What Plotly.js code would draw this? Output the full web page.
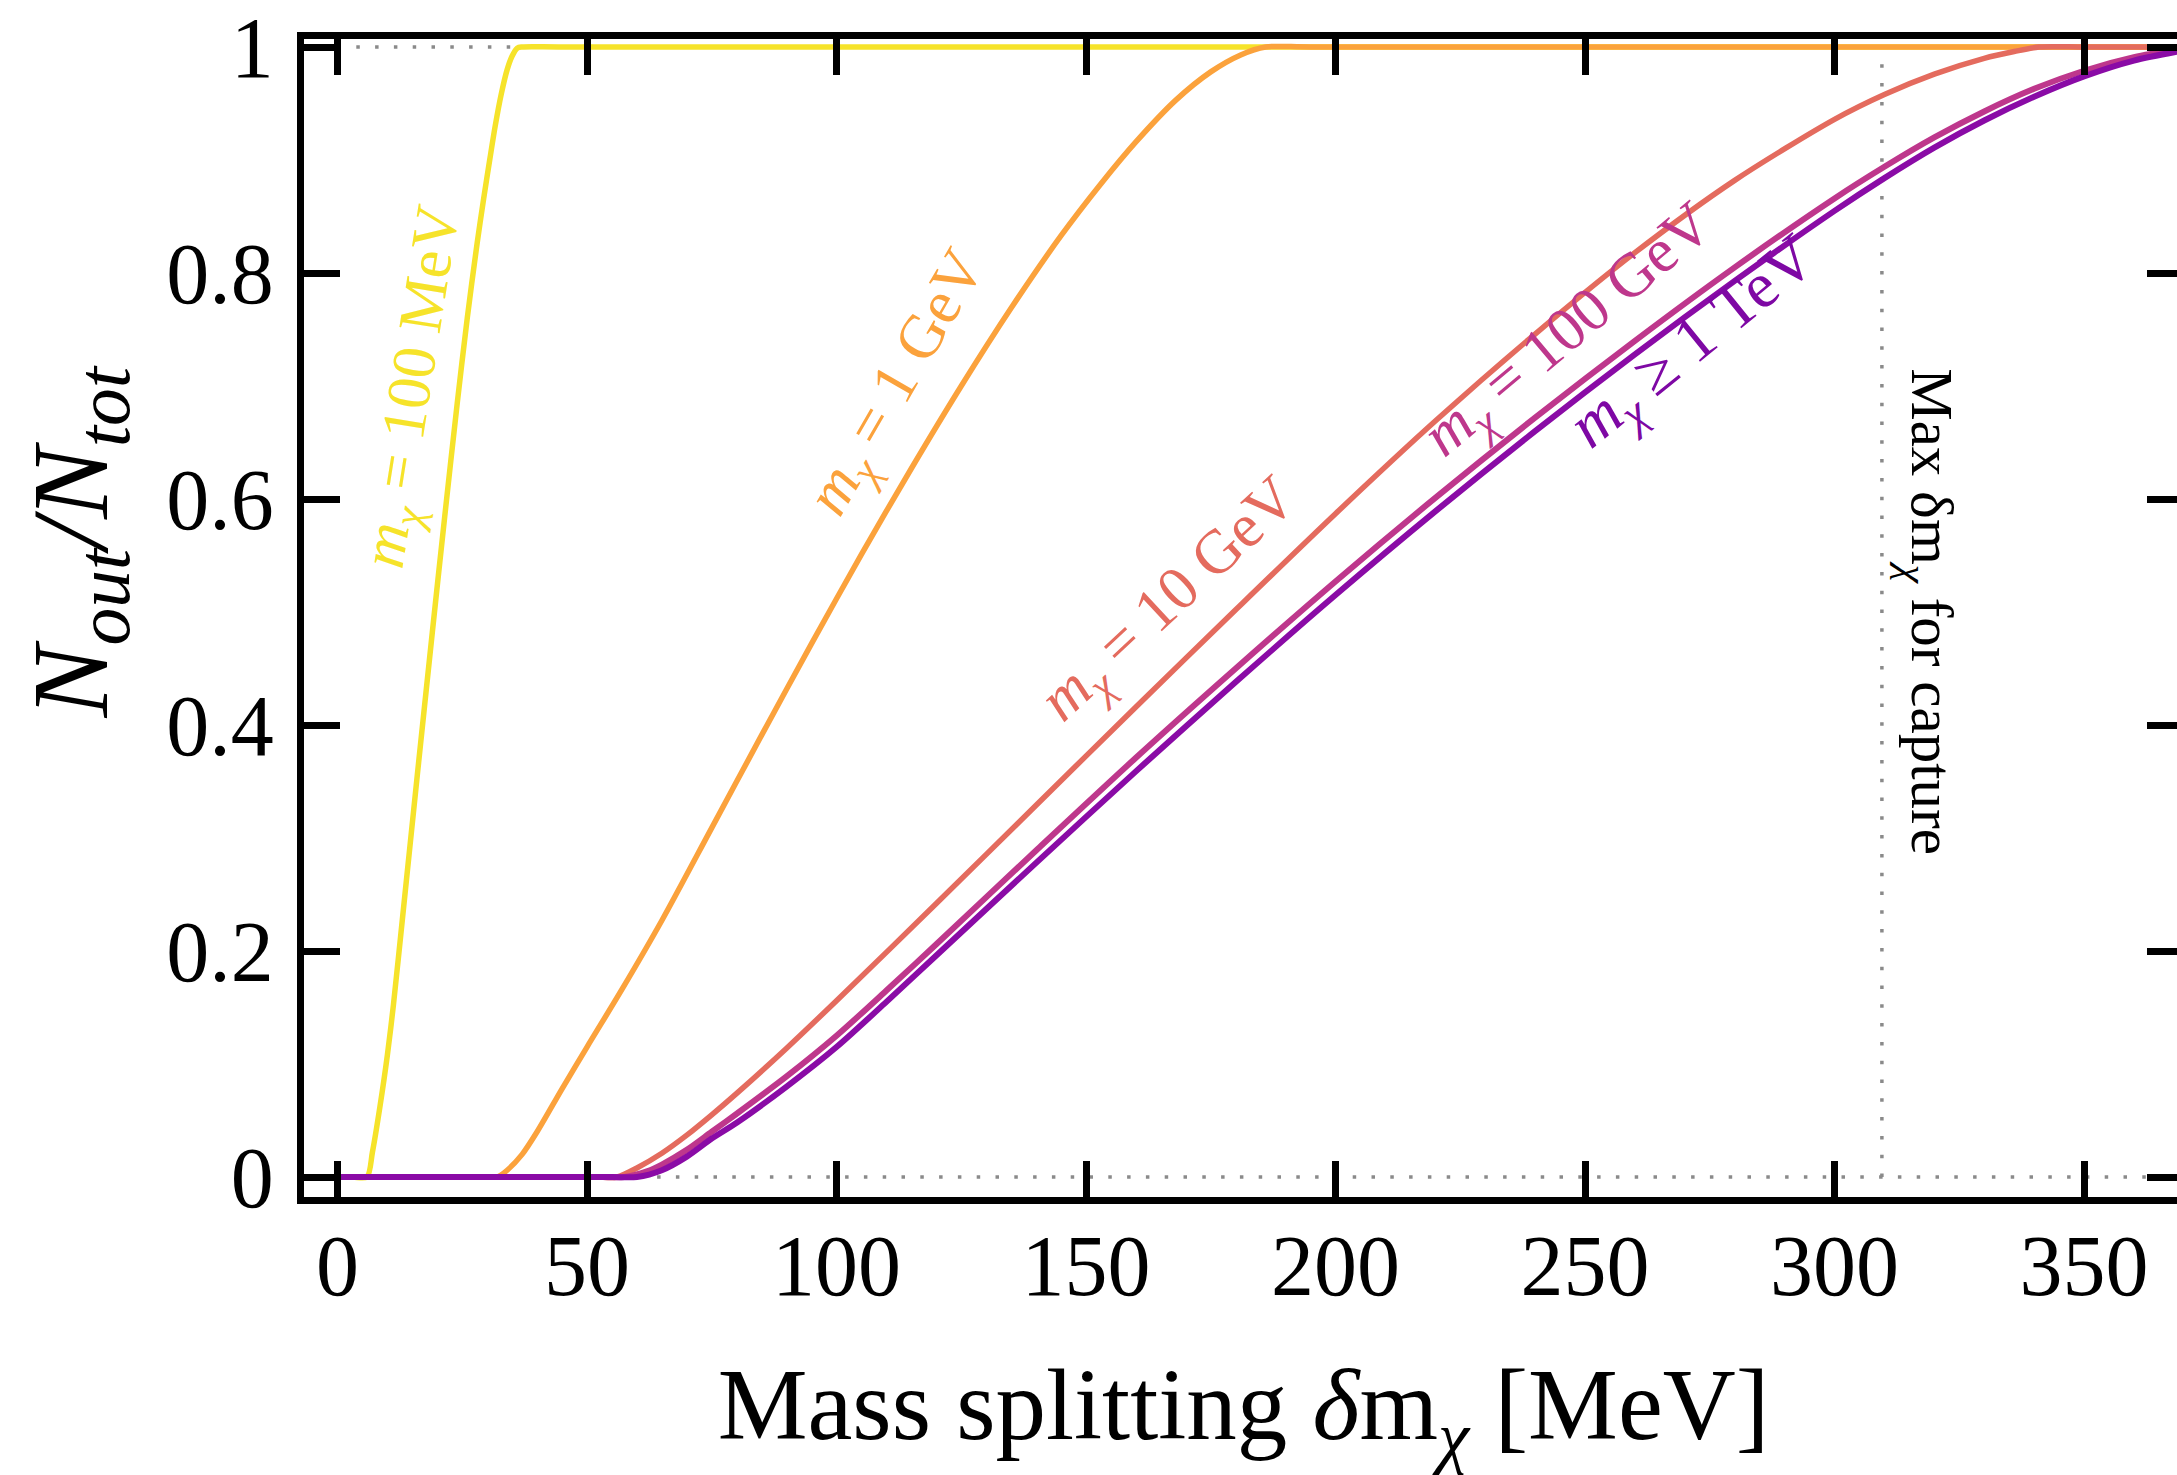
<!DOCTYPE html>
<html>
<head>
<meta charset="utf-8">
<script src="https://cdn.plot.ly/plotly-3.0.1.min.js"></script>
<style>
  html, body { margin: 0; padding: 0; overflow: hidden; background: #ffffff; }
  #chart { width: 2190px; height: 1475px; }
</style>
</head>
<body>
<div id="chart"></div>
<script>
// Fraction of states that end up outside, N_out/N_tot, versus the mass splitting δm_χ [MeV]
// for several dark-matter masses.

const splitting_100MeV = [0, 3, 5.9, 7, 8.5, 10, 11.2, 13, 16, 19, 21.5, 24, 26, 28, 29.3, 30.5, 31.6, 32.8, 34, 35, 36, 37, 45, 370];
const fraction_100MeV  = [0, 0, 0, 0.022, 0.062, 0.108, 0.152, 0.228, 0.356, 0.482, 0.585, 0.685, 0.76, 0.827, 0.866, 0.9, 0.93, 0.958, 0.98, 0.992, 0.999, 1, 1, 1];

const splitting_1GeV = [0, 25, 30, 32, 34, 37, 40, 45, 50, 57, 65, 75, 85, 95, 105, 115, 125, 135, 145, 153, 160, 168, 175, 181, 186, 195, 370];
const fraction_1GeV  = [0, 0, 0, 0, 0.006, 0.02, 0.04, 0.078, 0.115, 0.166, 0.227, 0.309, 0.391, 0.472, 0.551, 0.627, 0.7, 0.769, 0.833, 0.879, 0.916, 0.953, 0.978, 0.993, 1, 1, 1];

const splitting_10GeV = [0, 45, 52, 56, 60, 65, 70, 75, 80, 90, 100, 120, 140, 160, 180, 200, 220, 240, 260, 280, 300, 310, 320, 330, 336, 341, 350, 370];
const fraction_10GeV  = [0, 0, 0, 0, 0.008, 0.021, 0.037, 0.055, 0.074, 0.114, 0.156, 0.242, 0.329, 0.416, 0.502, 0.587, 0.669, 0.746, 0.818, 0.882, 0.936, 0.958, 0.976, 0.99, 0.996, 1, 1, 1];

const splitting_100GeV = [0, 45, 53, 57.5, 62, 65, 70, 75, 80, 90, 100, 110, 120, 140, 160, 180, 200, 220, 240, 260, 280, 300, 310, 320, 330, 340, 350, 360, 370];
const fraction_100GeV  = [0, 0, 0, 0, 0.005, 0.011, 0.024, 0.04, 0.056, 0.089, 0.125, 0.165, 0.206, 0.289, 0.371, 0.45, 0.527, 0.601, 0.672, 0.74, 0.805, 0.866, 0.894, 0.92, 0.943, 0.963, 0.979, 0.991, 0.999];

const splitting_1TeV = [0, 45, 55, 60, 65, 70, 75, 80, 90, 100, 110, 120, 140, 160, 180, 200, 220, 240, 260, 280, 300, 310, 320, 330, 340, 350, 360, 370];
const fraction_1TeV  = [0, 0, 0, 0, 0.006, 0.018, 0.034, 0.048, 0.08, 0.115, 0.155, 0.196, 0.278, 0.359, 0.438, 0.515, 0.589, 0.66, 0.728, 0.793, 0.855, 0.884, 0.911, 0.935, 0.956, 0.974, 0.988, 0.997];

// Largest splitting for which capture is still possible [MeV]
const maxCaptureSplitting = 309.5;

const xTickVals = [0, 50, 100, 150, 200, 250, 300, 350];
const xTickText = ['0', '50', '100', '150', '200', '250', '300', '350'];
const yTickVals = [0, 0.2, 0.4, 0.6, 0.8, 1];
const yTickText = ['0', '0.2', '0.4', '0.6', '0.8', '1'];

const serif = '"Liberation Serif", "DejaVu Serif", "Times New Roman", serif';

const colors = {
  mev100: '#F6E32A',
  gev1:   '#FBA23C',
  gev10:  '#E46B5E',
  gev100: '#BE378C',
  tev1:   '#8A0BA6'
};

function curve(x, y, color, width) {
  return {
    type: 'scatter', mode: 'lines', x: x, y: y,
    line: { color: color, width: width, shape: 'spline', smoothing: 0.8 },
    hoverinfo: 'skip', showlegend: false
  };
}

const traces = [
  curve(splitting_100MeV, fraction_100MeV, colors.mev100, 5.5),
  curve(splitting_1GeV,   fraction_1GeV,   colors.gev1,   5.5),
  curve(splitting_10GeV,  fraction_10GeV,  colors.gev10,  5.5),
  curve(splitting_100GeV, fraction_100GeV, colors.gev100, 6),
  curve(splitting_1TeV,   fraction_1TeV,   colors.tev1,   6)
];

const dotted = { color: '#8a8a8a', width: 3.5, dash: '3.5px,15.3px' };

const shapes = [
  { type: 'line', xref: 'x', yref: 'y', x0: 0, x1: 372, y0: 1, y1: 1, line: dotted, layer: 'below' },
  { type: 'line', xref: 'x', yref: 'y', x0: 0, x1: 372, y0: 0, y1: 0, line: dotted, layer: 'below' },
  { type: 'line', xref: 'x', yref: 'y', x0: maxCaptureSplitting, x1: maxCaptureSplitting, y0: 0, y1: 1, line: dotted, layer: 'below' }
];

function label(text, x, y, angle, color, size) {
  return {
    xref: 'x', yref: 'y', x: x, y: y, text: text, textangle: angle,
    showarrow: false, xanchor: 'center', yanchor: 'middle',
    font: { family: serif, size: size, color: color }
  };
}

const mchi = '<i>m</i><sub><i>χ</i></sub>';

const annotations = [
  label(mchi + ' = 100 MeV', 15.3, 0.699, -81, colors.mev100, 62),
  label(mchi + ' = 1 GeV', 112.5, 0.702, -60, colors.gev1, 62),
  label(mchi + ' = 10 GeV', 167.0, 0.510, -43, colors.gev10, 62),
  label(mchi + ' = 100 GeV', 247.0, 0.748, -40, colors.gev100, 62),
  label(mchi + ' ≥ 1 TeV', 272, 0.737, -39, '#7E08A4', 65),
  label('Max δm<sub><i>χ</i></sub> for capture', 318.7, 0.5, 90, '#000000', 59),
  {
    xref: 'paper', yref: 'paper', x: -0.1205, y: 0.5656,
    text: '<i>N</i><sub><i>out</i></sub><i>/N</i><sub><i>tot</i></sub>',
    textangle: -90, showarrow: false, xanchor: 'center', yanchor: 'middle',
    font: { family: serif, size: 108, color: '#000000' }
  }
];

const axisCommon = {
  ticks: 'inside', ticklen: 36, tickwidth: 7, tickcolor: '#000000',
  showline: true, linewidth: 7, linecolor: '#000000', mirror: 'ticks',
  showgrid: false, zeroline: false,
  tickfont: { family: serif, size: 86, color: '#000000' }
};

const layout = {
  width: 2190, height: 1475,
  margin: { l: 304, r: 7, t: 39, b: 278, pad: 0 },
  paper_bgcolor: '#ffffff', plot_bgcolor: '#ffffff',
  showlegend: false,
  xaxis: Object.assign({}, axisCommon, {
    range: [-6.713, 369.84],
    tickmode: 'array', tickvals: xTickVals, ticktext: xTickText,
    ticklabelstandoff: -12,
    title: {
      text: 'Mass splitting <i>δ</i>m<sub><i>χ</i></sub> [MeV]',
      font: { family: serif, size: 101, color: '#000000' },
      standoff: 105
    }
  }),
  yaxis: Object.assign({}, axisCommon, {
    range: [-0.0177, 1.0071],
    tickmode: 'array', tickvals: yTickVals, ticktext: yTickText,
    ticklabelstandoff: 6
  }),
  shapes: shapes,
  annotations: annotations
};

Plotly.newPlot('chart', traces, layout, { staticPlot: true, displayModeBar: false, responsive: false });
</script>
</body>
</html>
